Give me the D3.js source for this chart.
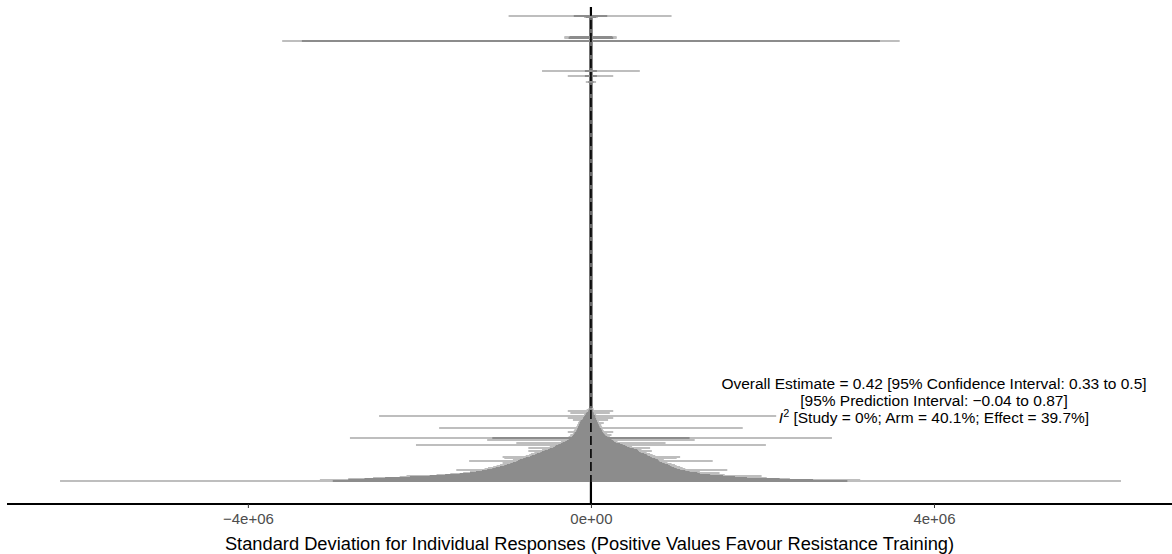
<!DOCTYPE html>
<html><head><meta charset="utf-8">
<script src="https://cdn.jsdelivr.net/npm/d3@7"></script>
<style>
body{margin:0;background:#fff}
svg{display:block}
text{font-family:"Liberation Sans",Arial,Helvetica,sans-serif}
</style>
</head><body>
<svg id="chart" width="1172" height="554"></svg>
<script>
// ---- data (SD for individual responses, in millions) ----
const rowRank = [1,2,3,4,5,6,7,8,9,10,11,12,13,14,15,16,17,18,19,20,21,22,23,24,25,26,27,28,29,30,31,32,33,34,35,36,37,38,39,40,41,42,43,44,45,46,47,48,49,50,51,52,53,54,55,56,57,58,59,60,61,62,63,64,65,66,67,68,69,70,71,72,73,400,406,411,441,444,445,465,466];
const innerLower = [-3.01,-2.83,-2.64,-2.40,-2.11,-1.88,-1.70,-1.53,-1.41,-1.34,-1.27,-1.21,-1.15,-1.11,-1.06,-1.01,-0.98,-0.94,-0.91,-0.87,-0.85,-0.83,-0.79,-0.76,-0.71,-0.69,-0.65,-0.63,-0.59,-0.57,-0.54,-0.50,-0.48,-0.44,-0.42,-0.41,-0.38,-0.35,-0.33,-0.30,-0.28,-0.26,-0.24,-1.15,-0.22,-0.21,-0.20,-0.19,-0.19,-0.17,-0.17,-0.16,-0.16,-0.15,-0.15,-0.14,-0.14,-0.13,-0.13,-0.12,-0.12,-0.10,-0.09,-0.09,-0.08,-0.07,-0.06,-0.06,-0.05,-0.03,-0.03,-0.02,-0.02,-0.03,-0.07,-0.07,-3.37,-0.26,-0.25,-0.06,-0.20];
const innerUpper = [2.99,2.59,2.20,1.82,1.68,1.54,1.39,1.27,1.24,1.15,1.10,1.04,1.00,0.97,0.94,0.92,0.90,0.86,0.83,0.80,0.79,0.78,0.75,0.71,0.69,0.66,0.65,0.62,0.58,0.56,0.55,0.54,0.50,0.45,0.42,0.40,0.37,0.34,0.29,0.27,0.26,0.24,0.22,1.15,0.19,0.17,0.16,0.15,0.14,0.13,0.13,0.12,0.12,0.10,0.10,0.09,0.09,0.08,0.08,0.07,0.07,0.06,0.06,0.05,0.05,0.05,0.03,0.03,0.03,0.02,0.02,0.02,0.01,0.03,0.07,0.07,3.37,0.26,0.25,0.06,0.19];
const outerLower = [-6.19,-3.16,-2.83,-2.54,-2.23,-2.15,-1.80,-1.64,-1.49,-1.41,-1.34,-1.57,-1.24,-1.20,-1.14,-1.10,-1.06,-1.03,-1.00,-1.03,-1.42,-0.91,-0.87,-1.01,-1.03,-0.76,-0.72,-0.70,-0.66,-0.64,-0.73,-0.57,-0.54,-0.73,-0.48,-0.47,-2.04,-0.41,-0.87,-0.35,-0.33,-1.21,-0.29,-2.81,-0.26,-0.24,-0.24,-0.21,-0.21,-0.27,-0.20,-0.19,-0.19,-1.77,-0.17,-0.16,-0.16,-0.15,-0.15,-0.14,-0.14,-0.21,-0.12,-0.27,-0.10,-2.47,-0.08,-0.08,-0.24,-0.06,-0.27,-0.05,-0.03,-0.06,-0.27,-0.57,-3.60,-0.31,-0.31,-0.08,-0.96];
const outerUpper = [6.18,3.14,2.32,2.05,1.80,1.99,1.56,1.41,1.50,1.27,1.20,1.59,1.10,1.07,1.04,1.00,0.98,0.94,0.89,0.89,1.42,0.85,0.83,1.00,1.04,0.75,0.72,0.69,0.65,0.63,0.71,0.59,0.57,0.69,0.48,0.45,2.04,0.40,0.87,0.31,0.30,1.21,0.27,2.81,0.22,0.21,0.24,0.19,0.17,0.26,0.15,0.14,0.14,1.77,0.13,0.12,0.12,0.10,0.15,0.09,0.09,0.20,0.08,0.26,0.07,2.16,0.06,0.06,0.22,0.05,0.26,0.03,0.03,0.06,0.26,0.57,3.60,0.30,0.30,0.08,0.94];
const overallEstimate = 0.42e-6;   // 0.42, expressed in millions
const tickValues = [-4, 0, 4];
const tickLabels = ["\u22124e+06", "0e+00", "4e+06"];
const annotationLines = [
  "Overall Estimate = 0.42 [95% Confidence Interval: 0.33 to 0.5]",
  "[95% Prediction Interval: \u22120.04 to 0.87]",
  " [Study = 0%; Arm = 40.1%; Effect = 39.7%]"
];
const annotationX = 4;
const xTitle = "Standard Deviation for Individual Responses (Positive Values Favour Resistance Training)";
const yDomain = [-21, 475];

// ---- layout ----
const W = 1172, H = 554;
const panel = {left: 7, right: 1174, top: 7, bottom: 503};
const svg = d3.select("#chart");

const rows = rowRank.map((r, i) => ({rank: r, il: innerLower[i], iu: innerUpper[i], ol: outerLower[i], ou: outerUpper[i]}));
const lo = d3.min(outerLower), hi = d3.max(outerUpper);
const pad = (hi - lo) * 0.05;
const x = d3.scaleLinear().domain([lo - pad, hi + pad]).range([panel.left, panel.right]);
const y = d3.scaleLinear().domain(yDomain).range([panel.bottom, panel.top]);

// reference line at zero
svg.append("line")
  .attr("x1", x(0)).attr("x2", x(0))
  .attr("y1", panel.top).attr("y2", panel.bottom)
  .attr("stroke", "#000").attr("stroke-width", 2.2);

// narrow intervals of the many precise effects collapse into a band at zero
svg.append("line")
  .attr("x1", x(0)).attr("x2", x(0))
  .attr("y1", y(d3.max(rowRank))).attr("y2", y(d3.min(rowRank)))
  .attr("stroke", "#666").attr("stroke-width", 3.6);

// outer intervals
svg.append("g").selectAll("line").data(rows).join("line")
  .attr("x1", d => x(d.ol)).attr("x2", d => x(d.ou))
  .attr("y1", d => y(d.rank)).attr("y2", d => y(d.rank))
  .attr("stroke", "#bebebe").attr("stroke-width", 2);

// inner intervals
svg.append("g").selectAll("line").data(rows).join("line")
  .attr("x1", d => x(d.il)).attr("x2", d => x(d.iu))
  .attr("y1", d => y(d.rank)).attr("y2", d => y(d.rank))
  .attr("stroke", "#8c8c8c").attr("stroke-width", 2);

// overall estimate (dashed)
svg.append("line")
  .attr("x1", x(overallEstimate)).attr("x2", x(overallEstimate))
  .attr("y1", panel.top).attr("y2", panel.bottom)
  .attr("stroke", "#000").attr("stroke-width", 1.6)
  .attr("stroke-dasharray", "9,4");

// x axis
const axis = svg.append("g").attr("transform", `translate(0,${panel.bottom + 1})`)
  .call(d3.axisBottom(x).tickValues(tickValues).tickSize(4).tickPadding(5)
        .tickFormat((d, i) => tickLabels[i]));
axis.select(".domain").attr("stroke", "#000").attr("stroke-width", 2)
    .attr("d", `M${panel.left},0H${W}`);
axis.selectAll(".tick line").attr("stroke", "#333").attr("stroke-width", 1);
axis.selectAll(".tick text").attr("fill", "#4d4d4d").style("font-size", "15px")
    .style("font-family", '"Liberation Sans",Arial,sans-serif');

// x title
svg.append("text")
  .attr("x", (panel.left + panel.right) / 2 - 1).attr("y", 550)
  .attr("text-anchor", "middle").style("font-size", "18.3px").attr("fill", "#000")
  .text(xTitle);

// annotation
const ann = svg.append("g").style("font-size", "15.5px").attr("fill", "#000");
annotationLines.forEach((t, i) => {
  const tx = ann.append("text").attr("x", x(annotationX)).attr("y", 389 + i * 17)
    .attr("text-anchor", "middle");
  if (i === 2) {
    tx.append("tspan").attr("font-style", "italic").text("I");
    tx.append("tspan").attr("baseline-shift", "super").style("font-size", "70%").text("2");
    tx.append("tspan").text(t);
  } else {
    tx.text(t);
  }
});
</script>
</body></html>
